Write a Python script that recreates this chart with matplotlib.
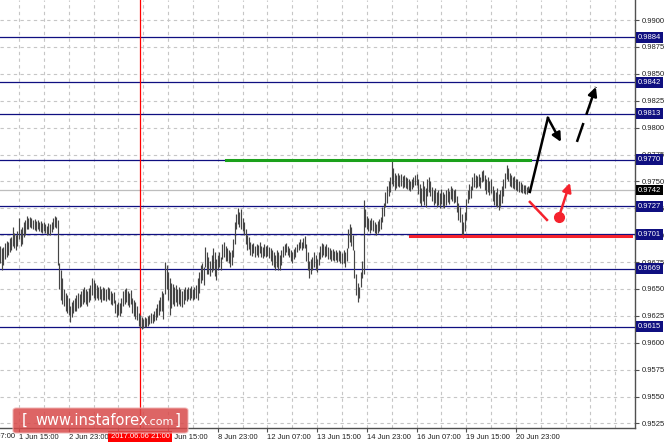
import numpy as np
import matplotlib
matplotlib.use('Agg')
import matplotlib.pyplot as plt
import matplotlib.transforms as mtransforms
from matplotlib.patches import FancyBboxPatch

# H1 bars from the chart, high / low in pips (price * 10000)
bar_high = [
    9690, 9688, 9689, 9693, 9695, 9694, 9697, 9698, 9708, 9702,
    9700, 9704, 9716, 9706, 9708, 9712, 9714, 9718, 9716, 9717,
    9716, 9714, 9715, 9713, 9714, 9712, 9713, 9711, 9712, 9710,
    9709, 9711, 9710, 9712, 9716, 9718, 9717, 9714, 9674, 9668,
    9660, 9650, 9646, 9644, 9642, 9634, 9638, 9640, 9642, 9644,
    9646, 9645, 9648, 9650, 9652, 9650, 9648, 9651, 9654, 9660,
    9658, 9656, 9654, 9652, 9653, 9650, 9652, 9651, 9650, 9652,
    9651, 9648, 9646, 9647, 9640, 9636, 9638, 9637, 9642, 9648,
    9650, 9651, 9648, 9646, 9649, 9642, 9640, 9638, 9634, 9628,
    9626, 9624, 9622, 9624, 9623, 9625, 9626, 9628, 9627, 9630,
    9632, 9636, 9640, 9643, 9648, 9646, 9675, 9672, 9666, 9660,
    9656, 9655, 9652, 9654, 9650, 9652, 9650, 9648, 9650, 9652,
    9650, 9652, 9651, 9653, 9650, 9652, 9654, 9660, 9666, 9672,
    9674, 9670, 9689, 9684, 9680, 9676, 9682, 9688, 9684, 9678,
    9682, 9684, 9680, 9692, 9694, 9690, 9688, 9686, 9684, 9686,
    9696, 9712, 9720, 9725, 9722, 9724, 9716, 9712, 9706, 9700,
    9698, 9694, 9692, 9693, 9690, 9692, 9691, 9694, 9690, 9689,
    9692, 9690, 9691, 9689, 9688, 9686, 9684, 9682, 9686, 9684,
    9682, 9686, 9690, 9692, 9693, 9690, 9688, 9686, 9684, 9687,
    9689, 9692, 9694, 9696, 9694, 9697, 9699, 9692, 9684, 9676,
    9678, 9680, 9684, 9682, 9678, 9684, 9690, 9693, 9692, 9690,
    9692, 9689, 9688, 9686, 9687, 9685, 9686, 9684, 9686, 9685,
    9683, 9686, 9684, 9688, 9706, 9710, 9708, 9700, 9686, 9664,
    9656, 9652, 9666, 9676, 9733, 9724, 9718, 9716, 9714, 9716,
    9714, 9712, 9710, 9713, 9715, 9717, 9726, 9730, 9740, 9746,
    9750, 9754, 9769, 9762, 9758, 9756, 9758, 9756, 9757, 9755,
    9756, 9754, 9753, 9752, 9750, 9752, 9754, 9756, 9757, 9752,
    9748, 9744, 9750, 9746, 9744, 9752, 9754, 9750, 9745, 9742,
    9744, 9740, 9742, 9739, 9743, 9740, 9738, 9742, 9744, 9741,
    9746, 9744, 9742, 9743, 9736, 9730, 9726, 9720, 9712, 9722,
    9734, 9742, 9748, 9746, 9754, 9758, 9756, 9755, 9757, 9754,
    9760, 9761, 9756, 9752, 9754, 9750, 9752, 9746, 9742, 9740,
    9744, 9738, 9742, 9746, 9752, 9758, 9765, 9762, 9758, 9756,
    9754, 9755, 9752, 9752, 9750, 9749, 9748, 9747, 9747, 9745,
    9746]
bar_low = [
    9674, 9668, 9672, 9678, 9680, 9682, 9684, 9686, 9690, 9688,
    9686, 9690, 9696, 9690, 9692, 9698, 9700, 9706, 9706, 9708,
    9707, 9706, 9705, 9704, 9706, 9704, 9703, 9702, 9704, 9702,
    9700, 9701, 9700, 9703, 9706, 9708, 9707, 9672, 9650, 9640,
    9636, 9634, 9630, 9628, 9626, 9619, 9624, 9628, 9630, 9630,
    9632, 9633, 9634, 9636, 9638, 9636, 9634, 9638, 9640, 9644,
    9642, 9640, 9642, 9640, 9641, 9638, 9640, 9640, 9639, 9641,
    9640, 9636, 9635, 9637, 9628, 9624, 9626, 9625, 9628, 9634,
    9636, 9638, 9635, 9633, 9636, 9628, 9625, 9622, 9621, 9616,
    9614, 9613, 9614, 9615, 9615, 9616, 9617, 9618, 9618, 9620,
    9621, 9624, 9626, 9630, 9630, 9622, 9645, 9650, 9640, 9626,
    9632, 9636, 9634, 9638, 9634, 9636, 9634, 9633, 9636, 9640,
    9639, 9641, 9640, 9642, 9640, 9641, 9642, 9640, 9646, 9656,
    9658, 9654, 9670, 9664, 9664, 9662, 9666, 9668, 9662, 9658,
    9668, 9670, 9668, 9678, 9680, 9676, 9676, 9674, 9670, 9672,
    9680, 9692, 9706, 9710, 9708, 9706, 9704, 9700, 9692, 9686,
    9687, 9682, 9681, 9683, 9680, 9682, 9680, 9683, 9680, 9679,
    9681, 9680, 9681, 9679, 9676, 9672, 9670, 9668, 9670, 9668,
    9668, 9672, 9680, 9682, 9684, 9682, 9680, 9676, 9674, 9678,
    9680, 9684, 9686, 9688, 9686, 9688, 9688, 9676, 9668, 9660,
    9664, 9668, 9670, 9668, 9666, 9672, 9678, 9680, 9682, 9680,
    9681, 9678, 9678, 9676, 9677, 9676, 9677, 9675, 9676, 9674,
    9673, 9674, 9670, 9676, 9688, 9694, 9690, 9686, 9660, 9644,
    9638, 9642, 9652, 9660, 9664, 9708, 9706, 9704, 9702, 9705,
    9704, 9702, 9700, 9702, 9704, 9706, 9712, 9718, 9726, 9730,
    9736, 9740, 9748, 9746, 9742, 9744, 9746, 9745, 9746, 9744,
    9745, 9744, 9743, 9742, 9741, 9743, 9745, 9747, 9747, 9738,
    9730, 9727, 9732, 9728, 9726, 9736, 9740, 9736, 9732, 9728,
    9730, 9726, 9728, 9725, 9729, 9726, 9725, 9728, 9731, 9729,
    9734, 9732, 9730, 9731, 9722, 9714, 9712, 9700, 9697, 9704,
    9714, 9730, 9734, 9735, 9742, 9745, 9744, 9745, 9746, 9744,
    9749, 9750, 9742, 9738, 9740, 9737, 9739, 9732, 9728, 9727,
    9726, 9723, 9726, 9730, 9736, 9744, 9752, 9750, 9746, 9745,
    9744, 9743, 9742, 9741, 9740, 9740, 9739, 9739, 9738, 9738,
    9740]

levels = [0.9884, 0.9842, 0.9813, 0.9770, 0.9727, 0.9701, 0.9669, 0.9615]
last_price = 0.9742
price_ticks = [0.9525, 0.9550, 0.9575, 0.9600, 0.9625, 0.9650, 0.9675, 0.9700,
               0.9725, 0.9750, 0.9775, 0.9800, 0.9825, 0.9850, 0.9875, 0.9900]

tick_bars = [12, 44, 76, 108, 140, 172, 204, 236, 268, 300, 332]
tick_labels = ['1 Jun 15:00', '2 Jun 23:00', '6 Jun 07:00', '7 Jun 15:00',
               '8 Jun 23:00', '12 Jun 07:00', '13 Jun 15:00', '14 Jun 23:00',
               '16 Jun 07:00', '19 Jun 15:00', '20 Jun 23:00']
first_bar, first_label = -20, '31 May 07:00'
marker_bar, marker_label = 90, '2017.06.06 21:00'

# drawn objects (bar index, price)
green_line = (145, 341, 0.9770)
red_line = (264, 406, 0.9699)
black_up = [(341, 0.97402), (352.6, 0.98090)]
black_down = [(352.6, 0.98090), (361, 0.97867)]
dash_up = [(371.3, 0.97867), (383.5, 0.98378)]
red_down = [(341, 0.97309), (352, 0.97142)]
red_dot = (359.7, 0.97170)
red_up_tip = (366.8, 0.97486)

navy = '#0f0f80'
fnt = 'Liberation Sans'
fs = 5.5

fig = plt.figure(figsize=(6.65, 4.48), dpi=100)
ax = fig.add_axes([0, 20 / 448, 635 / 665, 428 / 448])
ax.set_xlim(-0.23, 408.7)
ax.set_ylim(0.95208, 0.99186)

# grid
for p in price_ticks:
    ax.axhline(p, color='#c6c6c6', lw=0.8, ls=(0, (3, 3)), zorder=0)
for b in range(-4, 409, 16):
    ax.axvline(b, color='#c6c6c6', lw=0.8, ls=(0, (3, 3)), zorder=0)

# levels
for lv in levels:
    ax.axhline(lv, color=navy, lw=0.9, zorder=1)
ax.axhline(last_price, color='#bdbdbd', lw=0.9, zorder=1)
ax.axvline(marker_bar, color='#ff0000', lw=0.9, zorder=1)

# price bars
idx = np.arange(len(bar_high))
hi = np.array(bar_high) / 10000
lo = np.array(bar_low) / 10000
ax.vlines(idx, lo, hi, colors='#454545', lw=0.85, zorder=2)

# analyst drawings
ax.plot(green_line[:2], [green_line[2]] * 2, color='#1ba11b', lw=2.2, zorder=3)
ax.plot(red_line[:2], [red_line[2]] * 2, color='#f5222d', lw=2.2, zorder=3)
ax.plot(*zip(*black_up), color='black', lw=1.8, zorder=4)
ax.annotate('', xy=black_down[1], xytext=black_down[0],
            arrowprops=dict(arrowstyle='-|>', color='black', lw=1.8, mutation_scale=13,
                            shrinkA=0, shrinkB=0), zorder=4)
ax.plot(*zip(*dash_up), color='black', lw=1.8, ls=(0, (8, 3.5)), zorder=4)
ax.annotate('', xy=dash_up[1], xytext=(dash_up[1][0] - 2, dash_up[1][1] - 0.0008),
            arrowprops=dict(arrowstyle='-|>', color='black', lw=1.8, mutation_scale=13,
                            shrinkA=0, shrinkB=0), zorder=4)
ax.plot(*zip(*red_down), color='#f5222d', lw=1.8, zorder=4)
ax.plot(*red_dot, 'o', color='#f5222d', ms=7, zorder=4)
ax.annotate('', xy=red_up_tip, xytext=red_dot,
            arrowprops=dict(arrowstyle='-|>', color='#f5222d', lw=1.8, mutation_scale=13,
                            shrinkA=0, shrinkB=0), zorder=4)

# axes styling
for s in ['left', 'top']:
    ax.spines[s].set_visible(False)
for s in ['right', 'bottom']:
    ax.spines[s].set_color('#505050')
    ax.spines[s].set_linewidth(1)
ax.yaxis.tick_right()
ax.set_yticks(price_ticks)
ax.set_yticklabels(['%.4f' % p for p in price_ticks], fontsize=fs, family=fnt)
ax.set_xticks(tick_bars)
ax.set_xticklabels(tick_labels, fontsize=fs, family=fnt, ha='left')
ax.tick_params(axis='both', length=3, width=0.8, color='#505050', pad=1.5, labelcolor='#202020')
ax.text(first_bar, -0.012, first_label, transform=ax.get_xaxis_transform(),
        fontsize=fs, family=fnt, ha='left', va='top', color='#202020', clip_on=False)

# level tags on price scale
tr = mtransforms.blended_transform_factory(ax.transAxes, ax.transData)
for lv in levels:
    ax.text(1.004, lv, '%.4f' % lv, transform=tr, fontsize=fs, family=fnt, color='white',
            va='center', ha='left', clip_on=False, zorder=6,
            bbox=dict(boxstyle='square,pad=0.25', fc=navy, ec='none'))
ax.text(1.004, last_price, '%.4f' % last_price, transform=tr, fontsize=fs, family=fnt,
        color='white', va='center', ha='left', clip_on=False, zorder=6,
        bbox=dict(boxstyle='square,pad=0.25', fc='black', ec='none'))
ax.text(marker_bar, -0.012, marker_label, transform=ax.get_xaxis_transform(), fontsize=fs,
        family=fnt, color='white', ha='center', va='top', clip_on=False, zorder=7,
        bbox=dict(boxstyle='square,pad=0.3', fc='#ff0000', ec='none'))

# watermark
wm = FancyBboxPatch((13 / 665, 15 / 448), 175 / 665, 25 / 448, transform=fig.transFigure,
                    boxstyle='round,pad=0,rounding_size=0.005', fc='#d84a4a', ec='#f0b0b0',
                    lw=0.8, alpha=0.85, zorder=10)
fig.patches.append(wm)
fig.text(22 / 665, 27.5 / 448, '[', color='white', fontsize=11, va='center', zorder=11)
fig.text(35 / 665, 27.5 / 448, 'www.instaforex', color='white', fontsize=10.5, va='center', zorder=11)
fig.text(147 / 665, 26 / 448, '.com', color='white', fontsize=8, va='center', zorder=11)
fig.text(175 / 665, 27.5 / 448, ']', color='white', fontsize=11, va='center', zorder=11)

fig.savefig('out.png', dpi=100)
